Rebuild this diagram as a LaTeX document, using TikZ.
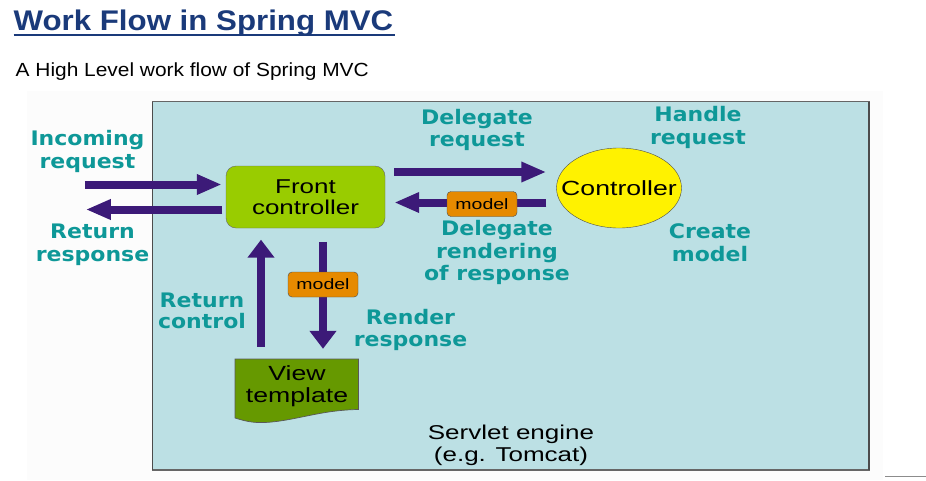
\documentclass[tikz,border=0pt]{standalone}
\usepackage{fontspec}
\setmainfont{Liberation Sans}
\newfontfamily\titlefont[FakeStretch=1.1]{Liberation Sans}
\newfontfamily\labfont[FakeStretch=1.1]{DejaVu Sans}
\newfontfamily\boxfont[FakeStretch=1.3]{Liberation Sans}
\usetikzlibrary{arrows.meta,shapes.geometric,calc}
\definecolor{titleblue}{RGB}{26,58,122}
\definecolor{tealc}{RGB}{14,152,152}
\definecolor{arrowc}{RGB}{60,26,120}
\definecolor{panelc}{RGB}{188,224,228}
\definecolor{fcgreen}{RGB}{153,204,0}
\definecolor{vtgreen}{RGB}{102,153,0}
\definecolor{modelc}{RGB}{230,138,0}
\definecolor{faintc}{RGB}{252,252,252}
\tikzset{
  arr/.style={draw=arrowc, line width=8pt},
  harr/.style={arr, -{Triangle[length=25pt,width=19pt]}},
  varr/.style={arr, -{Triangle[length=18pt,width=26pt]}},
  lab/.style={text=tealc, font=\labfont\bfseries\fontsize{20}{22.5}\selectfont, align=center, inner sep=0pt},
  boxtext/.style={font=\boxfont\fontsize{20}{21.5}\selectfont, align=center, inner sep=0pt},
  modelbox/.style={draw=black!70, fill=modelc, rounded corners=4pt, minimum width=70pt, minimum height=25pt, inner sep=0pt, font=\boxfont\fontsize{15}{15}\selectfont}
}
\begin{document}
\begin{tikzpicture}[x=1pt,y=-1pt]
\useasboundingbox (0,0) rectangle (926,480);
% faint backdrop and panel
\fill[faintc] (27,91) rectangle (883,480);
\draw[fill=panelc, draw=black!60, line width=1.2pt] (152.5,101.5) rectangle (869,470);
\draw[black!70, line width=1.6pt] (869,101.5) -- (869,470);
\draw[black!70, line width=1.6pt] (152.5,101.5) -- (152.5,470);
% title
\node[anchor=base west, inner sep=0pt, text=titleblue, font=\titlefont\bfseries\fontsize{28.4}{30}\selectfont] (title) at (13.5,30) {Work Flow in Spring MVC};
\draw[titleblue, line width=2.6pt] (title.base west |- 0,35) -- ($(title.base east |- 0,35)+(2,0)$);
\node[anchor=base west, inner sep=0pt, font=\titlefont\fontsize{19}{21}\selectfont] (sub) at (15.5,76) {A High Level work flow of Spring MVC};
% main nodes
\node[draw=black!60, fill=fcgreen, rounded corners=10pt, minimum width=159pt, minimum height=62pt, boxtext] (fc) at (305.5,197) {Front\\controller};
\node[ellipse, draw=black!70, fill=yellow, minimum width=125pt, minimum height=80pt, boxtext, font=\boxfont\fontsize{20.5}{21.5}\selectfont, inner xsep=-20pt, inner ysep=0pt] (ctrl) at (619,188) {Controller};
\node[minimum width=124pt, minimum height=59pt, inner sep=0pt] (vt) at (297,388.5) {};
\fill[vtgreen] (235,359) -- (358.5,359) -- (358.5,409.5)
  .. controls (320,410) and (295,421) .. (265,422.5)
  .. controls (252,423) and (245,421) .. (235,418) -- cycle;
\draw[black!65, line width=0.7pt] (235,418) -- (235,359) -- (358.5,359) -- (358.5,409.5)
  .. controls (320,410) and (295,421) .. (265,422.5)
  .. controls (252,423) and (245,421) .. (235,418);
\node[boxtext, font=\boxfont\fontsize{20.5}{21.7}\selectfont] at (297,386) {View\\template};
% free ends
\coordinate (inStart) at ($(fc.west)+(-141,-12.5)$);
\coordinate (outEnd) at ($(fc.west)+(-140,12.5)$);
% connectors
\draw[harr] (inStart) -- ($(fc.west)+(-4,-12.5)$);
\draw[harr] ($(fc.west)+(-3.5,12.5)$) -- (outEnd);
\draw[harr] ($(fc.east)+(9,-25)$) -- ($(ctrl.west)+(-10,-16)$);
\draw[harr] ($(ctrl.west)+(-10,14.5)$) -- ($(fc.east)+(9,5.5)$);
\node[modelbox] (m1) at (482,204) {model};
\draw[varr] ($(vt.north)+(-36,-12)$) -- ($(fc.south)+(-44.5,11.5)$);
\draw[varr] ($(fc.south)+(17.5,13.7)$) -- ($(vt.north)+(26,-10)$);
\node[modelbox] (m2) at (323,284.5) {model};
% labels
\node[lab] (l1) at (87.5,151.4) {Incoming\\request};
\node[lab] (l2) at (92.5,244.8) {Return\\response};
\node[lab] (l3) at (477,130) {Delegate\\request};
\node[lab] (l4) at (698,127.7) {Handle\\request};
\node[lab] (l5) at (497,252.5) {Delegate\\rendering\\of response};
\node[lab] (l6) at (710,242.8) {Create\\model};
\node[lab, font=\labfont\bfseries\fontsize{20}{21}\selectfont] (l7) at (202,311.2) {Return\\control};
\node[lab] (l8) at (410.5,330) {Render\\response};
\node[boxtext, font=\boxfont\fontsize{20}{22}\selectfont] (se) at (511,445.6) {Servlet engine\\(e.g. Tomcat)};
% corner line
\draw[black!45, line width=0.8pt] (885,476.5) -- (926,476.5);
\end{tikzpicture}
\end{document}
